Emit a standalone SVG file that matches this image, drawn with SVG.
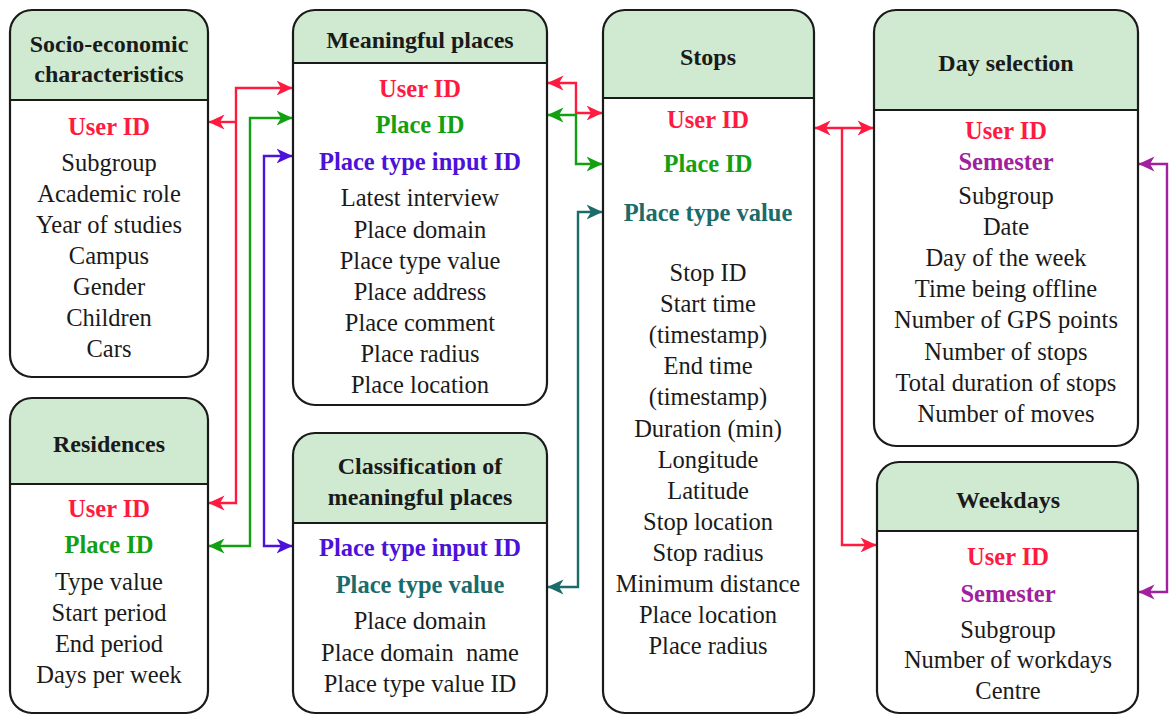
<svg xmlns="http://www.w3.org/2000/svg" width="1170" height="715" viewBox="0 0 1170 715">
<style>
.box{fill:#ffffff;stroke:none}
.hdr{fill:#d0ead2;stroke:none}
.out{fill:none;stroke:#1a1a1a;stroke-width:2.2}
.sep{stroke:#1a1a1a;stroke-width:2.2}
text{font-family:Tinos,'Liberation Serif','Times New Roman',Times,'Nimbus Roman','DejaVu Serif',serif;font-size:24.5px;text-anchor:middle;fill:#1a1a1a}
.h{font-weight:bold;font-size:24px}
.b{font-weight:bold}
.red{fill:#ff1a40}
.grn{fill:#12a012}
.pur{fill:#4c12d9}
.teal{fill:#1c6b6b}
.mag{fill:#a0209e}
.c{fill:none;stroke-width:2.4}
</style>
<defs>
<marker id="ar" viewBox="0 0 16 16" markerWidth="16" markerHeight="16" refX="15.5" refY="8" orient="auto-start-reverse" markerUnits="userSpaceOnUse"><path d="M0,0.5 L16,8 L0,15.5 L4.5,8 Z" fill="#ff1a40"/></marker>
<marker id="ag" viewBox="0 0 16 16" markerWidth="16" markerHeight="16" refX="15.5" refY="8" orient="auto-start-reverse" markerUnits="userSpaceOnUse"><path d="M0,0.5 L16,8 L0,15.5 L4.5,8 Z" fill="#12a012"/></marker>
<marker id="ap" viewBox="0 0 16 16" markerWidth="16" markerHeight="16" refX="15.5" refY="8" orient="auto-start-reverse" markerUnits="userSpaceOnUse"><path d="M0,0.5 L16,8 L0,15.5 L4.5,8 Z" fill="#4c12d9"/></marker>
<marker id="at" viewBox="0 0 16 16" markerWidth="16" markerHeight="16" refX="15.5" refY="8" orient="auto-start-reverse" markerUnits="userSpaceOnUse"><path d="M0,0.5 L16,8 L0,15.5 L4.5,8 Z" fill="#1c6b6b"/></marker>
<marker id="am" viewBox="0 0 16 16" markerWidth="16" markerHeight="16" refX="15.5" refY="8" orient="auto-start-reverse" markerUnits="userSpaceOnUse"><path d="M0,0.5 L16,8 L0,15.5 L4.5,8 Z" fill="#a0209e"/></marker>
</defs>

<g id="socio">
<rect class="box" x="10" y="10" width="198" height="367" rx="22"/>
<path class="hdr" d="M10,100 V32 A22,22 0 0 1 32,10 H186 A22,22 0 0 1 208,32 V100 Z"/>
<line class="sep" x1="10" y1="100" x2="208" y2="100"/>
<rect class="out" x="10" y="10" width="198" height="367" rx="22"/>
<text class="h" x="109" y="52">Socio-economic</text>
<text class="h" x="109" y="82">characteristics</text>
<text class="b red" x="109" y="135">User ID</text>
<text x="109" y="171">Subgroup</text>
<text x="109" y="202">Academic role</text>
<text x="109" y="233">Year of studies</text>
<text x="109" y="264">Campus</text>
<text x="109" y="295">Gender</text>
<text x="109" y="326">Children</text>
<text x="109" y="357">Cars</text>
</g>

<g id="residences">
<rect class="box" x="10" y="398" width="198" height="315" rx="22"/>
<path class="hdr" d="M10,484 V420 A22,22 0 0 1 32,398 H186 A22,22 0 0 1 208,420 V484 Z"/>
<line class="sep" x1="10" y1="484" x2="208" y2="484"/>
<rect class="out" x="10" y="398" width="198" height="315" rx="22"/>
<text class="h" x="109" y="452">Residences</text>
<text class="b red" x="109" y="517">User ID</text>
<text class="b grn" x="109" y="553">Place ID</text>
<text x="109" y="590">Type value</text>
<text x="109" y="621">Start period</text>
<text x="109" y="652">End period</text>
<text x="109" y="683">Days per week</text>
</g>

<g id="meaningful">
<rect class="box" x="293" y="10" width="254" height="395" rx="22"/>
<path class="hdr" d="M293,63 V32 A22,22 0 0 1 315,10 H525 A22,22 0 0 1 547,32 V63 Z"/>
<line class="sep" x1="293" y1="63" x2="547" y2="63"/>
<rect class="out" x="293" y="10" width="254" height="395" rx="22"/>
<text class="h" x="420" y="48">Meaningful places</text>
<text class="b red" x="420" y="97">User ID</text>
<text class="b grn" x="420" y="133">Place ID</text>
<text class="b pur" x="420" y="170">Place type input ID</text>
<text x="420" y="206">Latest interview</text>
<text x="420" y="238">Place domain</text>
<text x="420" y="269">Place type value</text>
<text x="420" y="300">Place address</text>
<text x="420" y="331">Place comment</text>
<text x="420" y="362">Place radius</text>
<text x="420" y="393">Place location</text>
</g>

<g id="classification">
<rect class="box" x="293" y="433" width="254" height="280" rx="22"/>
<path class="hdr" d="M293,523 V455 A22,22 0 0 1 315,433 H525 A22,22 0 0 1 547,455 V523 Z"/>
<line class="sep" x1="293" y1="523" x2="547" y2="523"/>
<rect class="out" x="293" y="433" width="254" height="280" rx="22"/>
<text class="h" x="420" y="474">Classification of</text>
<text class="h" x="420" y="505">meaningful places</text>
<text class="b pur" x="420" y="556">Place type input ID</text>
<text class="b teal" x="420" y="593">Place type value</text>
<text x="420" y="629">Place domain</text>
<text x="420" y="661" xml:space="preserve">Place domain  name</text>
<text x="420" y="692">Place type value ID</text>
</g>

<g id="stops">
<rect class="box" x="603" y="10" width="211" height="703" rx="22"/>
<path class="hdr" d="M603,98 V32 A22,22 0 0 1 625,10 H792 A22,22 0 0 1 814,32 V98 Z"/>
<line class="sep" x1="603" y1="98" x2="814" y2="98"/>
<rect class="out" x="603" y="10" width="211" height="703" rx="22"/>
<text class="h" x="708" y="65">Stops</text>
<text class="b red" x="708" y="128">User ID</text>
<text class="b grn" x="708" y="172">Place ID</text>
<text class="b teal" x="708" y="221">Place type value</text>
<text x="708" y="281">Stop ID</text>
<text x="708" y="312">Start time</text>
<text x="708" y="343">(timestamp)</text>
<text x="708" y="374">End time</text>
<text x="708" y="405">(timestamp)</text>
<text x="708" y="437">Duration (min)</text>
<text x="708" y="468">Longitude</text>
<text x="708" y="499">Latitude</text>
<text x="708" y="530">Stop location</text>
<text x="708" y="561">Stop radius</text>
<text x="708" y="592">Minimum distance</text>
<text x="708" y="623">Place location</text>
<text x="708" y="654">Place radius</text>
</g>

<g id="dayselection">
<rect class="box" x="874" y="10" width="264" height="436" rx="22"/>
<path class="hdr" d="M874,110 V32 A22,22 0 0 1 896,10 H1116 A22,22 0 0 1 1138,32 V110 Z"/>
<line class="sep" x1="874" y1="110" x2="1138" y2="110"/>
<rect class="out" x="874" y="10" width="264" height="436" rx="22"/>
<text class="h" x="1006" y="71">Day selection</text>
<text class="b red" x="1006" y="139">User ID</text>
<text class="b mag" x="1006" y="170">Semester</text>
<text x="1006" y="204">Subgroup</text>
<text x="1006" y="235">Date</text>
<text x="1006" y="266">Day of the week</text>
<text x="1006" y="297">Time being offline</text>
<text x="1006" y="328">Number of GPS points</text>
<text x="1006" y="360">Number of stops</text>
<text x="1006" y="391">Total duration of stops</text>
<text x="1006" y="422">Number of moves</text>
</g>

<g id="weekdays">
<rect class="box" x="877" y="462" width="261" height="251" rx="22"/>
<path class="hdr" d="M877,531 V484 A22,22 0 0 1 899,462 H1116 A22,22 0 0 1 1138,484 V531 Z"/>
<line class="sep" x1="877" y1="531" x2="1138" y2="531"/>
<rect class="out" x="877" y="462" width="261" height="251" rx="22"/>
<text class="h" x="1008" y="508">Weekdays</text>
<text class="b red" x="1008" y="565">User ID</text>
<text class="b mag" x="1008" y="602">Semester</text>
<text x="1008" y="638">Subgroup</text>
<text x="1008" y="668">Number of workdays</text>
<text x="1008" y="699">Centre</text>
</g>

<g id="connectors">
<path class="c" stroke="#ff1a40" d="M292,88 H236 V503 H209" marker-start="url(#ar)" marker-end="url(#ar)"/>
<path class="c" stroke="#ff1a40" d="M236,122 H209" marker-end="url(#ar)"/>
<path class="c" stroke="#12a012" d="M292,118 H250 V546 H209" marker-start="url(#ag)" marker-end="url(#ag)"/>
<path class="c" stroke="#4c12d9" d="M292,156 H264 V546 H292" marker-start="url(#ap)" marker-end="url(#ap)"/>
<path class="c" stroke="#ff1a40" d="M548,83 H576 V113 H602" marker-start="url(#ar)" marker-end="url(#ar)"/>
<path class="c" stroke="#12a012" d="M548,115 H576 V164 H602" marker-start="url(#ag)" marker-end="url(#ag)"/>
<path class="c" stroke="#1c6b6b" d="M602,212 H578 V587 H548" marker-start="url(#at)" marker-end="url(#at)"/>
<path class="c" stroke="#ff1a40" d="M815,128 H873" marker-start="url(#ar)" marker-end="url(#ar)"/>
<path class="c" stroke="#ff1a40" d="M842,128 V545 H876" marker-end="url(#ar)"/>
<path class="c" stroke="#a0209e" d="M1139,164 H1167 V592 H1139" marker-start="url(#am)" marker-end="url(#am)"/>
</g>
</svg>
